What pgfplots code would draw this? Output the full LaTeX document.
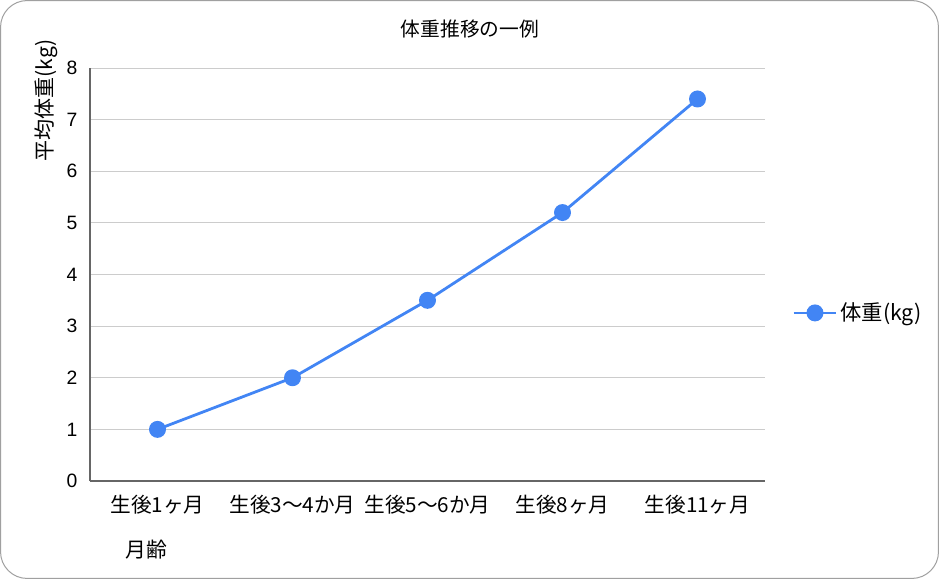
\documentclass[border=0pt]{standalone}
\usepackage{pgfplots}
\pgfplotsset{compat=1.18}
\usepackage{fontspec}
\setmainfont{Noto Sans CJK JP}
\newfontfamily\latinfont{Liberation Sans}
\definecolor{lineblue}{HTML}{4285F4}
\definecolor{gridgray}{HTML}{CCCCCC}
\definecolor{axisgray}{HTML}{666666}
\definecolor{framegray}{HTML}{A0A0A0}

\begin{document}
\begin{tikzpicture}
\useasboundingbox (0,0) rectangle (704.25pt,434.25pt);
\draw[framegray, line width=0.75pt, rounded corners=20pt]
    (0.4pt,0.4pt) rectangle (703.85pt,433.85pt);

\begin{axis}[
    at={(67.5pt,73.5pt)}, anchor=south west,
    scale only axis,
    width=506.25pt, height=309.75pt,
    xmin=0, xmax=5,
    ymin=0, ymax=8,
    xtick={0.5,1.5,2.5,3.5,4.5},
    xticklabels={生後1ヶ月, 生後3〜4か月, 生後5〜6か月, 生後8ヶ月, 生後11ヶ月},
    ytick={0,1,...,8},
    major tick length=0pt,
    axis x line*=bottom, axis y line*=left,
    axis line style={axisgray, line width=0.9pt},
    ymajorgrids,
    grid style={gridgray, line width=0.75pt},
    x tick label style={font=\fontsize{15.5}{18}\selectfont, yshift=-7pt},
    y tick label style={font=\fontsize{14.5}{16}\selectfont\latinfont, xshift=-6pt},
    /pgf/number format/assume math mode=true,
    legend style={at={(1.04,0.407)}, anchor=west, draw=none, fill=none,
        font=\fontsize{16}{18}\selectfont, inner sep=0pt},
    legend image code/.code={
        \draw[mark repeat=2, mark phase=2, #1]
            plot coordinates {(0pt,0pt) (16pt,0pt) (32pt,0pt)};
    },
]
\addplot[lineblue, line width=2.1pt, mark=*, mark size=5.3pt,
    mark options={fill=lineblue, draw=lineblue}] coordinates {
    (0.5,1) (1.5,2) (2.5,3.5) (3.5,5.2) (4.5,7.4)
};
\addlegendentry{体重(kg)}
\end{axis}

\node[font=\fontsize{14.8}{17}\selectfont] at (352.5pt,412.5pt) {体重推移の一例};
\node[font=\fontsize{15.8}{18}\selectfont, rotate=90] at (35pt,359pt) {平均体重(kg)};
\node[font=\fontsize{15.6}{18}\selectfont] at (109.5pt,21.75pt) {月齢};
\end{tikzpicture}
\end{document}
